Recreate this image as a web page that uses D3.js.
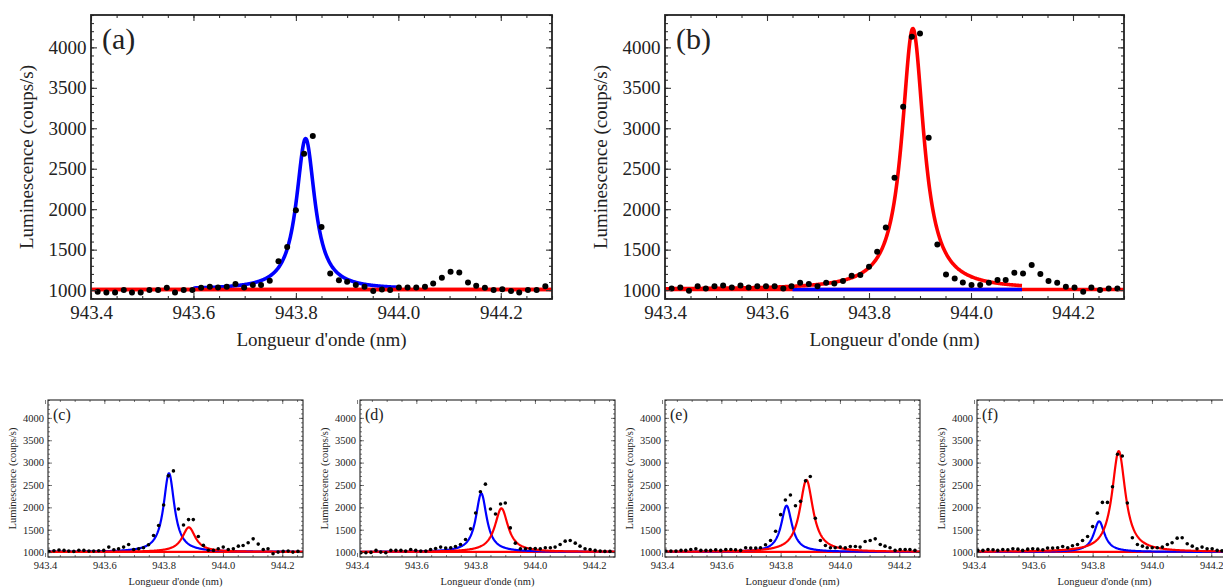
<!DOCTYPE html>
<html><head><meta charset="utf-8">
<script src="https://cdn.jsdelivr.net/npm/d3@7"></script>
<style>
body{margin:0;background:#fff}
svg{display:block;background:#fff}
text{font-family:"Liberation Serif","Times New Roman",Times,serif;fill:#222}
</style>
</head><body>
<svg id="chart" width="1223" height="587"></svg>
<script>
// ---------- DATA ----------
const wavelength = [943.413, 943.430, 943.447, 943.464, 943.480, 943.497, 943.514, 943.531, 943.548, 943.564,
  943.581, 943.598, 943.615, 943.632, 943.648, 943.665, 943.682, 943.699, 943.716, 943.732,
  943.749, 943.766, 943.783, 943.800, 943.816, 943.833, 943.850, 943.867, 943.884, 943.900,
  943.917, 943.934, 943.951, 943.968, 943.984, 944.001, 944.018, 944.035, 944.052, 944.068,
  944.085, 944.102, 944.119, 944.136, 944.152, 944.169, 944.186, 944.203, 944.220, 944.236,
  944.253, 944.270, 944.287];

const lumA = [979, 971, 971, 1000, 971, 971, 1000, 1000, 1029, 971, 1000, 1000, 1029, 1041, 1033, 1041, 1074, 1033, 1062, 1062,
  1115, 1358, 1534, 1986, 2685, 2903, 1781, 1206, 1123, 1103, 1062, 1041, 988, 1008, 1000, 1033, 1033, 1033, 1041, 1082,
  1152, 1226, 1218, 1095, 1053, 1029, 1000, 1012, 988, 971, 1000, 1000, 1049];
const lumB = [1021, 1033, 992, 1049, 1021, 1049, 1058, 1033, 1058, 1033, 1049, 1049, 1049, 1021, 1049, 1091, 1074, 1049, 1091, 1082,
  1111, 1177, 1186, 1288, 1474, 1775, 2388, 3266, 4131, 4172, 2883, 1564, 1194, 1144, 1095, 1062, 1062, 1091, 1124, 1124,
  1214, 1206, 1309, 1198, 1111, 1091, 1041, 1033, 979, 1033, 1000, 1021, 1021];
const lumC = [1015, 1030, 1045, 1037, 1022, 1015, 1040, 1037, 1022, 1022, 1030, 1037, 1111, 1052, 1074, 1111, 1170, 1059, 1074, 1096,
  1163, 1370, 1593, 2052, 2704, 2815, 1963, 1607, 1726, 1726, 1348, 1150, 1040, 1037, 1074, 1111, 1059, 1074, 1133, 1148,
  1207, 1296, 1178, 1059, 1074, 963, 1000, 1015, 1022, 1000, 1015];
const lumD = [985, 985, 993, 1037, 1000, 985, 1037, 1037, 1037, 1022, 1059, 1037, 1022, 1022, 1059, 1081, 1111, 1089, 1096, 1126,
  1170, 1281, 1519, 1874, 2349, 2519, 1963, 1852, 2074, 2097, 1541, 1200, 1074, 1074, 1081, 1081, 1074, 1096, 1096, 1111,
  1170, 1244, 1259, 1200, 1133, 1074, 1059, 1037, 1022, 1015, 1015];
const lumE = [1022, 1022, 1022, 1037, 1037, 1059, 1074, 1037, 1037, 1037, 1052, 1037, 1059, 1059, 1052, 1037, 1096, 1089, 1089, 1096,
  1163, 1259, 1467, 1837, 2163, 2275, 2037, 2134, 2593, 2690, 1756, 1259, 1148, 1096, 1096, 1111, 1096, 1126, 1126, 1111,
  1237, 1259, 1296, 1170, 1133, 1096, 1037, 1059, 1059, 1059, 1037];
const lumF = [1037, 1037, 1059, 1052, 1037, 1059, 1052, 1074, 1066, 1037, 1066, 1074, 1066, 1052, 1089, 1089, 1096, 1126, 1096, 1140,
  1170, 1260, 1348, 1570, 1870, 2111, 2111, 2460, 3186, 3149, 2097, 1319, 1170, 1133, 1096, 1096, 1096, 1111, 1170, 1207,
  1311, 1319, 1185, 1133, 1074, 1111, 1074, 1074, 1037, 1030, 1037];

const panelLabels = ["(a)", "(b)", "(c)", "(d)", "(e)", "(f)"];
// Lorentzian fit parameters
const baseLevel  = [1008, 1008, 1003, 1003, 1003, 1003];
const blueCenter = [943.819, 943.820, 943.818, 943.819, 943.820, 943.822];
const blueAmp    = [1865, 0, 1760, 1310, 1035, 685];
const blueWidth  = [0.0218, 0.0218, 0.022, 0.022, 0.022, 0.022];
const blueFrom   = [943.60, 943.65, 943.40, 943.40, 943.40, 943.40];
const blueTo     = [944.00, 944.10, 944.30, 944.30, 944.30, 944.30];
const redCenter  = [943.886, 943.886, 943.885, 943.887, 943.887, 943.888];
const redAmp     = [0, 3225, 550, 975, 1610, 2255];
const redWidth   = [0.026, 0.026, 0.027, 0.027, 0.027, 0.027];
const redFrom    = [943.40, 943.40, 943.40, 943.40, 943.40, 943.40];
const redTo      = [944.30, 944.10, 944.30, 944.30, 944.30, 944.30];

const xTicks = [943.4, 943.6, 943.8, 944.0, 944.2];
const xTickLabels = ["943.4", "943.6", "943.8", "944.0", "944.2"];
const yTicks = [1000, 1500, 2000, 2500, 3000, 3500, 4000];
const yTickLabels = ["1000", "1500", "2000", "2500", "3000", "3500", "4000"];
const xAxisTitle = "Longueur d'onde (nm)";
const yAxisTitle = "Luminescence (coups/s)";

// ---------- LAYOUT ----------
const FONT = '"Liberation Serif","Times New Roman",Times,serif';
const series = [lumA, lumB, lumC, lumD, lumE, lumF];
const big = {top: 15, bottom: 299, xDomain: [943.4, 944.3], font: 19, labelFont: 30, r: 3, lw: 3.6,
  major: 6, minor: 3, frame: 1.8, xPad: 6.5, yPad: 4.5, labelDx: 11, labelDy: 34, yTitleDx: -58, xTitleDy: 47};
const small = {top: 400, bottom: 557, xDomain: [943.41, 944.27], font: 10.5, labelFont: 16, r: 1.8, lw: 2.2,
  major: 4, minor: 2, frame: 1.1, xPad: 4.5, yPad: 4, labelDx: 5, labelDy: 20, yTitleDx: -32, xTitleDy: 28};
const panels = [
  Object.assign({left: 91, right: 552}, big),
  Object.assign({left: 665, right: 1124}, big),
  Object.assign({left: 48, right: 303}, small),
  Object.assign({left: 360, right: 615}, small),
  Object.assign({left: 665, right: 920}, small),
  Object.assign({left: 977, right: 1232}, small)
];
const yDomain = [890, 4400];

const svg = d3.select("#chart");
const lorentz = (x, b, a, c, w) => b + a / (1 + Math.pow((x - c) / w, 2));

panels.forEach((p, k) => {
  const g = svg.append("g");
  const x = d3.scaleLinear().domain(p.xDomain).range([p.left, p.right]);
  const y = d3.scaleLinear().domain(yDomain).range([p.bottom, p.top]);
  const clipId = "clip" + k;
  svg.append("clipPath").attr("id", clipId).append("rect")
    .attr("x", p.left).attr("y", p.top).attr("width", p.right - p.left).attr("height", p.bottom - p.top);

  const plot = g.append("g").attr("clip-path", `url(#${clipId})`);
  const line = d3.line().x(d => x(d[0])).y(d => y(d[1]));
  const curve = (from, to, amp, c, w) => {
    const lo = Math.max(from, p.xDomain[0]), hi = Math.min(to, p.xDomain[1]);
    return d3.range(0, 601).map(j => {
      const xv = lo + (hi - lo) * j / 600;
      return [xv, lorentz(xv, baseLevel[k], amp, c, w)];
    });
  };
  // red baseline
  plot.append("path").attr("d", line(curve(p.xDomain[0], p.xDomain[1], 0, redCenter[k], redWidth[k])))
    .attr("fill", "none").attr("stroke", "#ff0000").attr("stroke-width", p.lw);
  // blue fit
  plot.append("path").attr("d", line(curve(blueFrom[k], blueTo[k], blueAmp[k], blueCenter[k], blueWidth[k])))
    .attr("fill", "none").attr("stroke", "#0000ff").attr("stroke-width", p.lw).attr("stroke-linejoin", "round");
  // red fit
  plot.append("path").attr("d", line(curve(redFrom[k], redTo[k], redAmp[k], redCenter[k], redWidth[k])))
    .attr("fill", "none").attr("stroke", "#ff0000").attr("stroke-width", p.lw).attr("stroke-linejoin", "round");

  // data points
  const pts = series[k].map((v, i) => [wavelength[i], v]);
  plot.selectAll("circle").data(pts).enter().append("circle")
    .attr("cx", d => x(d[0])).attr("cy", d => y(d[1])).attr("r", p.r).attr("fill", "#000");

  // axes (ticks inside frame)
  const xMinor = d3.range(943.4, 944.301, 0.05).filter(v => v >= p.xDomain[0] - 1e-9 && v <= p.xDomain[1] + 1e-9);
  const yMinor = d3.range(900, 4401, 100);
  const add = (axis, tx, ty) => {
    const a = g.append("g").attr("transform", `translate(${tx},${ty})`).call(axis)
      .attr("font-family", FONT).attr("font-size", p.font);
    a.select(".domain").remove();
    a.selectAll("line").attr("stroke", "#333").attr("stroke-width", p.frame * 0.6);
    a.selectAll("text").attr("font-size", p.font).attr("fill", "#222").style("font-family", FONT);
    return a;
  };
  add(d3.axisBottom(x).tickValues(xTicks).tickFormat((d, i) => xTickLabels[i]).tickSize(-p.major).tickPadding(p.xPad), 0, p.bottom);
  add(d3.axisBottom(x).tickValues(xMinor).tickFormat("").tickSize(-p.minor), 0, p.bottom);
  add(d3.axisTop(x).tickValues(xTicks).tickFormat("").tickSize(-p.major), 0, p.top);
  add(d3.axisTop(x).tickValues(xMinor).tickFormat("").tickSize(-p.minor), 0, p.top);
  add(d3.axisLeft(y).tickValues(yTicks).tickFormat((d, i) => yTickLabels[i]).tickSize(-p.major).tickPadding(p.yPad), p.left, 0);
  add(d3.axisLeft(y).tickValues(yMinor).tickFormat("").tickSize(-p.minor), p.left, 0);
  add(d3.axisRight(y).tickValues(yTicks).tickFormat("").tickSize(-p.major), p.right, 0);
  add(d3.axisRight(y).tickValues(yMinor).tickFormat("").tickSize(-p.minor), p.right, 0);

  // frame
  g.append("rect").attr("x", p.left).attr("y", p.top).attr("width", p.right - p.left).attr("height", p.bottom - p.top)
    .attr("fill", "none").attr("stroke", "#222").attr("stroke-width", p.frame);

  // panel label
  g.append("text").attr("x", p.left + p.labelDx).attr("y", p.top + p.labelDy)
    .attr("font-size", p.labelFont).text(panelLabels[k]);
  // axis titles
  g.append("text").attr("x", (p.left + p.right) / 2).attr("y", p.bottom + p.xTitleDy)
    .attr("text-anchor", "middle").attr("font-size", p.font).text(xAxisTitle);
  g.append("text").attr("transform", `translate(${p.left + p.yTitleDx},${(p.top + p.bottom) / 2}) rotate(-90)`)
    .attr("text-anchor", "middle").attr("font-size", p.font).text(yAxisTitle);
});
</script>
</body></html>
